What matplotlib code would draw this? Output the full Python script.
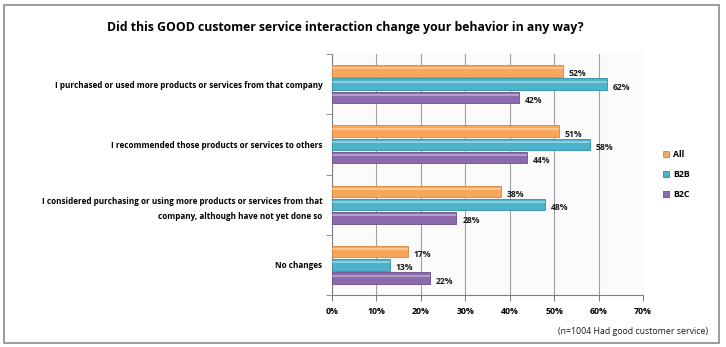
import numpy as np
import matplotlib.pyplot as plt
from matplotlib.patches import Rectangle

categories = [
    "I purchased or used more products or services from that company",
    "I recommended those products or services to others",
    "I considered purchasing or using more products or services from that\ncompany, although have not yet done so",
    "No changes",
]
all_vals = [52, 51, 38, 17]
b2b_vals = [62, 58, 48, 13]
b2c_vals = [42, 44, 28, 22]
series = ["All", "B2B", "B2C"]
colors = ["#F8A65A", "#4DB3CA", "#8B6BAE"]
edges = ["#D9843A", "#2F8FA6", "#6A4D8C"]

plt.rcParams['font.family'] = ['Open Sans', 'DejaVu Sans']

fig = plt.figure(figsize=(7.26, 3.47), dpi=100)
# outer frame
fig.patches.append(Rectangle((0.006, 0.012), 0.985, 0.975, transform=fig.transFigure,
                             fill=False, edgecolor='#8c8c8c', lw=1.2))
ax = fig.add_axes([332/726, 1 - 295/347, (643 - 332)/726, (295 - 54)/347])

ypos = np.arange(len(categories))
h = 0.19
step = 0.22
for i, (vals, c, e, name) in enumerate(zip([all_vals, b2b_vals, b2c_vals], colors, edges, series)):
    y = ypos + (i - 1) * step
    ax.barh(y, vals, height=h, color=c, edgecolor=e, lw=0.6, label=name, zorder=3)
    # glossy highlight
    ax.barh(y - h * 0.22, vals, height=h * 0.18, color='white', alpha=0.35, lw=0, zorder=4)
    for yy, v in zip(y, vals):
        ax.text(v + 1.3, yy + 0.05, f"{v}%", va='center', ha='left', fontsize=6.2,
                fontweight='bold', color='#1a1a1a')

ax.set_xlim(0, 70)
ax.set_ylim(3.5, -0.5)
ax.set_xticks(np.arange(0, 71, 10))
ax.set_xticklabels([f"{t}%" for t in range(0, 71, 10)], fontsize=6.3, fontweight='bold')
ax.set_yticks(ypos)
ax.set_yticklabels(categories, fontsize=5.9, fontweight='bold', linespacing=1.9)
ax.set_yticks(np.arange(-0.5, 4.0, 1.0), minor=True)
ax.tick_params(axis='y', which='major', length=0, pad=7)
ax.tick_params(axis='y', which='minor', length=4, color='#808080')
ax.tick_params(axis='x', length=4, color='#808080', pad=5)
ax.grid(axis='x', color='#a0a0a0', lw=0.8, zorder=0)
for s in ['top', 'right']:
    ax.spines[s].set_visible(False)
ax.spines['left'].set_color('#808080')
ax.spines['bottom'].set_color('#808080')
ax.set_facecolor('#fbfbfb')

leg = ax.legend(loc='center left', bbox_to_anchor=(1.04, 0.5), frameon=False,
                prop={'weight': 'bold', 'size': 6.3},
                handlelength=0.7, handleheight=0.7, labelspacing=1.25, handletextpad=0.4)

fig.text(345/726, 1 - 28/347, "Did this GOOD customer service interaction change your behavior in any way?",
         ha='center', va='center', fontsize=8.8, fontweight='bold')
fig.text(708/726, 1 - 332/347, "(n=1004 Had good customer service)", ha='right', va='center',
         fontsize=6.3, color='#1a1a1a')

fig.savefig("out.png", dpi=100)
